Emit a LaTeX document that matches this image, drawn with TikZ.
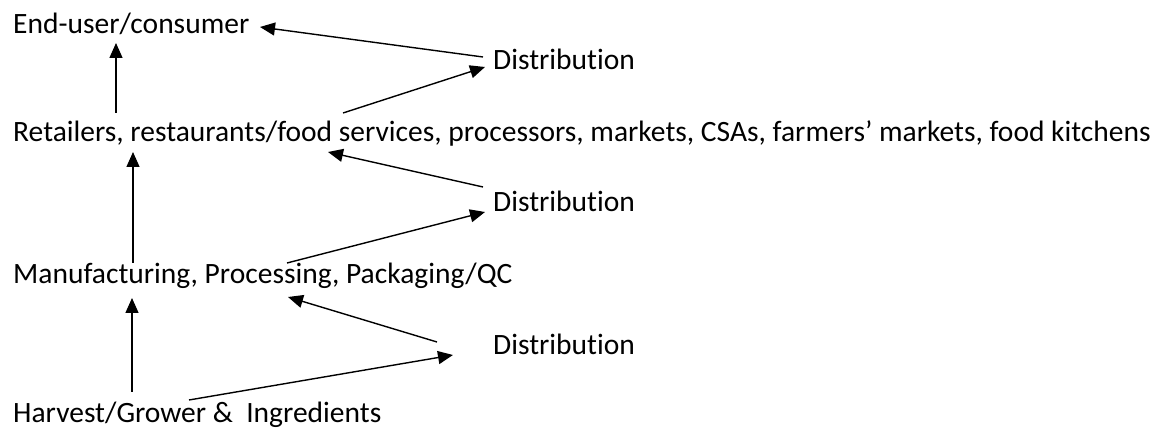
\documentclass[tikz,border=0pt]{standalone}
\usepackage{fontspec}
\setmainfont[Ligatures=NoCommon]{Carlito}
\usetikzlibrary{arrows.meta,calc}

\begin{document}
\begin{tikzpicture}
                    [x=1pt,y=-1pt,>={Triangle[length=15pt,width=13pt]},
                     stage/.style={anchor=base west,inner sep=0pt,font=\fontsize{29.5}{35}\selectfont},
                     flow/.style={->,line width=1.4pt}]

                \useasboundingbox (0,0) rectangle (1157,435);

                % supply chain levels
                \node[stage] (eu)  at (13,34)  {End-user/consumer};
                \node[stage] (ret) at (13,142) {Retailers, restaurants/food services, processors, markets, CSAs, farmers’ markets, food kitchens};
                \node[stage] (man) at (13,284) {Manufacturing, Processing, Packaging/QC};
                \node[stage] (har) at (13,423) {Harvest/Grower \&\ \ Ingredients};

                % distribution steps
                \node[stage] (d1) at (493,70)  {Distribution};
                \node[stage] (d2) at (493,212) {Distribution};
                \node[stage] (d3) at (493,355) {Distribution};

                    \draw[flow] ($(ret.base west)+(103,-29)$) -- ($(eu.base west)+(103,9)$);
                    \draw[flow] ($(d1.base west)+(-10,-13)$) -- ($(eu.base west)+(247,-7)$);
                    \draw[flow] ($(ret.base west)+(330,-29)$) -- ($(d1.base west)+(-8,-3)$);

                    \draw[flow] ($(man.base west)+(120,-21)$) -- ($(ret.base west)+(120,10)$);
                    \draw[flow] ($(d2.base west)+(-10,-25)$) -- ($(ret.base west)+(315,10)$);
                    \draw[flow] ($(man.base west)+(274,-21)$) -- ($(d2.base west)+(-8,0)$);

                    \draw[flow] ($(har.base west)+(119,-31)$) -- ($(man.base west)+(119,14)$);
                    \draw[flow] ($(d3.base west)+(-56,-13)$) -- ($(man.base west)+(275,13)$);
                    \draw[flow] ($(har.base west)+(176,-23)$) -- ($(d3.base west)+(-40,0)$);

                \end{tikzpicture}
\end{document}
